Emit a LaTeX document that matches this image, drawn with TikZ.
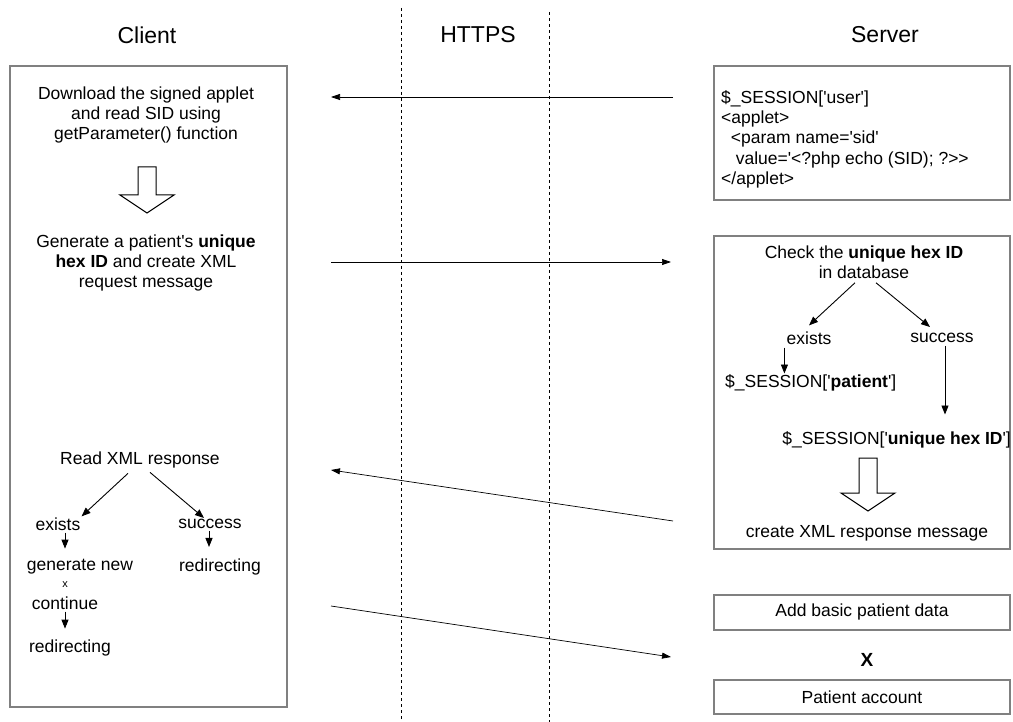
\documentclass[tikz,border=0pt]{standalone}
\usepackage{fontspec}
\setmainfont{Liberation Sans}[Ligatures=TeXOff]
\usetikzlibrary{arrows.meta,positioning}
\definecolor{boxline}{HTML}{808080}

\tikzset{
  txt/.style={font=\fontsize{17.5}{20.3}\selectfont, inner sep=1pt, align=center},
  ttl/.style={font=\fontsize{23}{26}\selectfont},
  lane/.style={draw=boxline, line width=1.3pt},
  sep/.style={dashed, line width=0.6pt},
  msg/.style={-{Triangle[length=9pt,width=6pt]}, line width=0.7pt},
  flow/.style={-{Triangle[length=9pt,width=7pt]}, line width=0.9pt},
  hollow/.style={draw, line width=1pt, fill=white},
}

\begin{document}
\begin{tikzpicture}[x=1pt,y=-1pt]
  \useasboundingbox (0,0) rectangle (1013,722);

  % lanes
  \draw[lane] (10,66) rectangle (287,707);
  \draw[lane] (714,66) rectangle (1010,200);
  \draw[lane] (714,236) rectangle (1010,549);
  \draw[lane] (714,595) rectangle (1010,630);
  \draw[lane] (714,680) rectangle (1010,714);
  \draw[sep] (401,8) -- (401,722);
  \draw[sep] (549,12) -- (549,722);

  \path
  (147,35) node[ttl](client) {Client}
  (478,35) node[ttl](https) {HTTPS}
  (885,35) node[ttl](server) {Server}
  ;

  % client side
  \path
  (146,115) node[txt](download) {Download the signed applet\\and read SID using\\getParameter() function}
  (146,263) node[txt](generate) {Generate a patient's \textbf{unique}\\\textbf{hex ID} and create XML\\request message}
  (140,460) node[txt](read) {Read XML response}
  (58,524) node[txt](cexists) {exists}
  (210,524) node[txt](csuccess) {success}
  (80,567) node[txt](gennew) {generate new}
  (65,585) node[txt, font=\fontsize{11}{12}\selectfont](cx) {x}
  (65,603) node[txt](continue) {continue}
  (70,648) node[txt](credir1) {redirecting}
  (220,567) node[txt](credir2) {redirecting}
  ;

  \draw[flow] (read.south) ++(-12,4) coordinate(r1) -- (cexists.north east);
  \draw[flow] (read.south) ++(10,3) coordinate(r2) -- ([xshift=-6pt]csuccess.north);
  \draw[flow] (cexists.south) ++(7,1) coordinate(e1) -- ++(0,16) coordinate(e2);
  \draw[flow] (continue.south) ++(0,1) coordinate(c1) -- ++(0,17) coordinate(c2);
  \draw[flow] (csuccess.south) ++(-1,1) coordinate(s1) -- ++(0,16) coordinate(s2);

  \draw[hollow] (138,167) -- (156,167) -- (156,195) -- (174,195) -- (147,213)
    -- (120,195) -- (138,195) -- cycle;

  % server side
  \node[txt, align=left, anchor=north west](applet) at (720,89)
    {\$\_SESSION['user']\\<applet>\\\ \ <param name='sid'\\\ \ \ value='<?php echo (SID); ?>>\\</applet>};

  \path
  (864,262) node[txt](check) {Check the \textbf{unique hex ID}\\in database}
  (809,338) node[txt](sexists) {exists}
  (942,338) node[txt](ssuccess) {success}
  (724,383) node[txt, anchor=west](spatient) {\$\_SESSION['\textbf{patient}']}
  (1012,440) node[txt, anchor=east](shexid) {\$\_SESSION['\textbf{unique hex ID}']}
  (867,533) node[txt](response) {create XML response message}
  (862,612) node[txt](basic) {Add basic patient data}
  (867,660) node[txt, font=\fontsize{19}{20}\selectfont\bfseries](join) {X}
  (862,697) node[txt](account) {Patient account}
  ;

  \draw[flow] (check.south) ++(-9,3) coordinate(k1) -- ([yshift=5pt]sexists.north);
  \draw[flow] (check.south) ++(12,3) coordinate(k2) -- ([yshift=5pt,xshift=-12pt]ssuccess.north);
  \draw[flow] (sexists.south west) ++(-1,2) coordinate(x1) -- (spatient.north -| x1);
  \draw[flow] (ssuccess.south) ++(3,2) coordinate(u1) -- ([yshift=16pt]shexid.north -| u1);

  \draw[hollow] (859,458) -- (877,458) -- (877,493) -- (895,493) -- (868,511)
    -- (841,493) -- (859,493) -- cycle;

  % messages over https
  \coordinate (m1a) at (673,97);
  \coordinate (m1b) at (331,97);
  \coordinate (m2a) at (331,262);
  \coordinate (m2b) at (671,262);
  \coordinate (m3a) at (673,521);
  \coordinate (m3b) at (331,470);
  \coordinate (m4a) at (331,606);
  \coordinate (m4b) at (671,657);
  \draw[msg] (m1a) -- (m1b);
  \draw[msg] (m2a) -- (m2b);
  \draw[msg] (m3a) -- (m3b);
  \draw[msg] (m4a) -- (m4b);
\end{tikzpicture}
\end{document}
